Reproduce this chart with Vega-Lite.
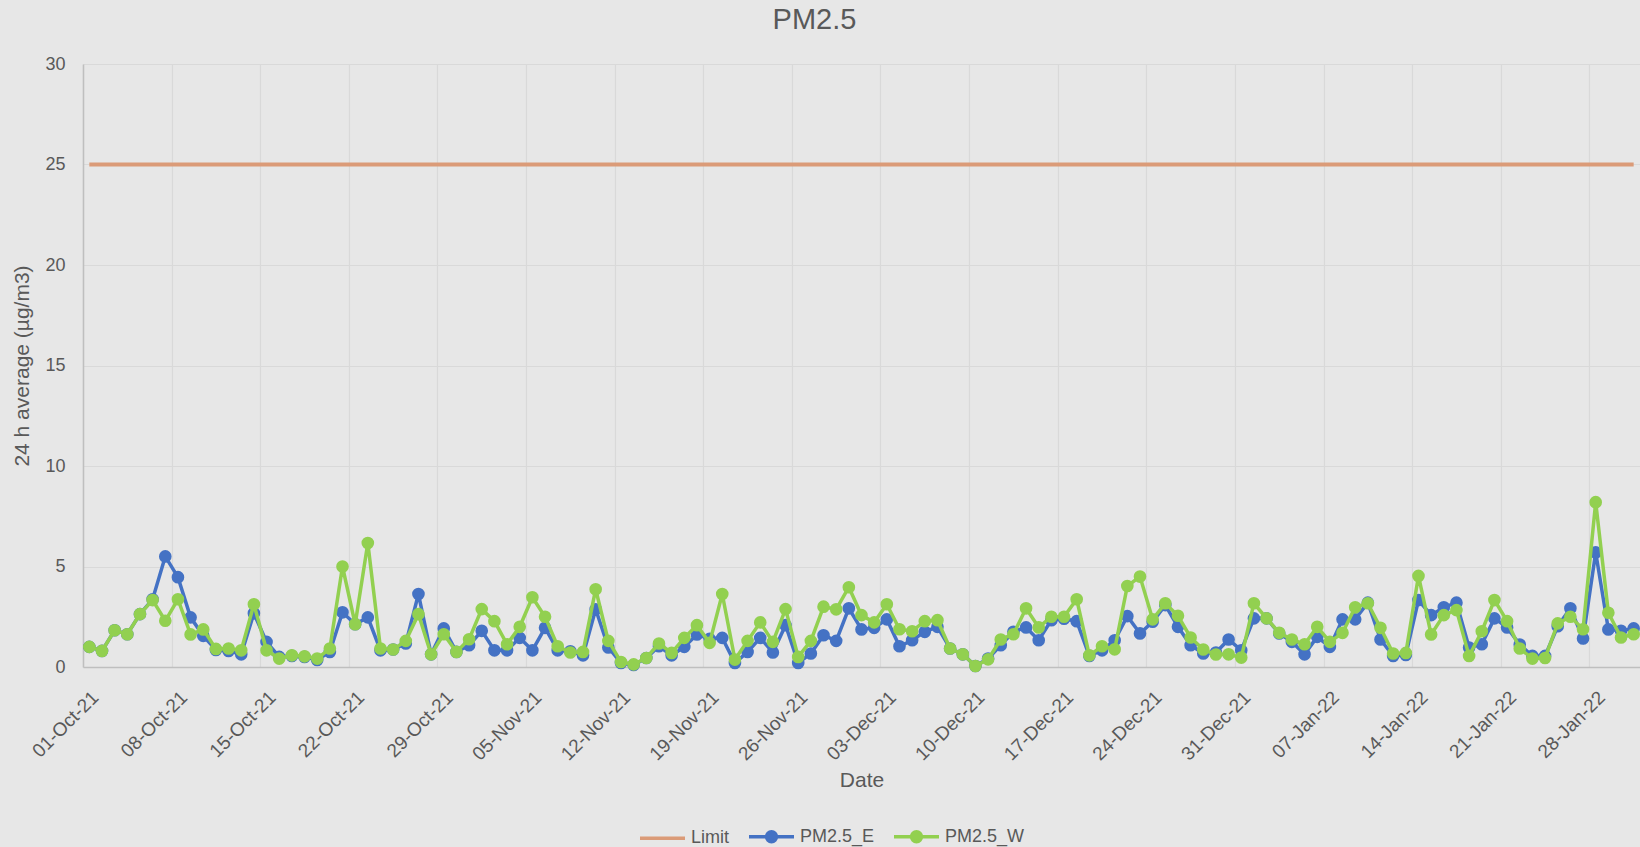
{
  "$schema": "https://vega.github.io/schema/vega-lite/v6.json",
  "width": 1557,
  "height": 603,
  "autosize": {"type": "none"},
  "padding": {"left": 83, "top": 64, "right": 0, "bottom": 180},
  "background": "#E7E7E7",
  "title": {"text": "PM2.5", "fontSize": 29, "fontWeight": "normal", "color": "#595959", "font": "Liberation Sans", "anchor": "middle", "frame": "group", "dx": -47, "offset": 20},
  "config": {"view": {"stroke": null}, "font": "Liberation Sans"},
  "data": {"values": [
    {"date": "2021-10-01", "Limit": 25, "E": 1.0, "W": 1.0},
    {"date": "2021-10-02", "Limit": 25, "E": 0.8, "W": 0.8},
    {"date": "2021-10-03", "Limit": 25, "E": 1.83, "W": 1.83},
    {"date": "2021-10-04", "Limit": 25, "E": 1.63, "W": 1.63},
    {"date": "2021-10-05", "Limit": 25, "E": 2.63, "W": 2.63},
    {"date": "2021-10-06", "Limit": 25, "E": 3.37, "W": 3.33},
    {"date": "2021-10-07", "Limit": 25, "E": 5.5, "W": 2.3},
    {"date": "2021-10-08", "Limit": 25, "E": 4.47, "W": 3.37},
    {"date": "2021-10-09", "Limit": 25, "E": 2.47, "W": 1.62},
    {"date": "2021-10-10", "Limit": 25, "E": 1.55, "W": 1.87},
    {"date": "2021-10-11", "Limit": 25, "E": 0.85, "W": 0.9},
    {"date": "2021-10-12", "Limit": 25, "E": 0.8, "W": 0.92},
    {"date": "2021-10-13", "Limit": 25, "E": 0.63, "W": 0.83},
    {"date": "2021-10-14", "Limit": 25, "E": 2.67, "W": 3.12},
    {"date": "2021-10-15", "Limit": 25, "E": 1.25, "W": 0.83},
    {"date": "2021-10-16", "Limit": 25, "E": 0.5, "W": 0.42},
    {"date": "2021-10-17", "Limit": 25, "E": 0.55, "W": 0.58},
    {"date": "2021-10-18", "Limit": 25, "E": 0.5, "W": 0.53},
    {"date": "2021-10-19", "Limit": 25, "E": 0.35, "W": 0.42},
    {"date": "2021-10-20", "Limit": 25, "E": 0.75, "W": 0.92},
    {"date": "2021-10-21", "Limit": 25, "E": 2.72, "W": 5.0},
    {"date": "2021-10-22", "Limit": 25, "E": 2.13, "W": 2.13},
    {"date": "2021-10-23", "Limit": 25, "E": 2.47, "W": 6.17},
    {"date": "2021-10-24", "Limit": 25, "E": 0.83, "W": 0.92},
    {"date": "2021-10-25", "Limit": 25, "E": 0.87, "W": 0.87},
    {"date": "2021-10-26", "Limit": 25, "E": 1.17, "W": 1.3},
    {"date": "2021-10-27", "Limit": 25, "E": 3.63, "W": 2.63},
    {"date": "2021-10-28", "Limit": 25, "E": 0.63, "W": 0.63},
    {"date": "2021-10-29", "Limit": 25, "E": 1.92, "W": 1.63},
    {"date": "2021-10-30", "Limit": 25, "E": 0.75, "W": 0.75},
    {"date": "2021-10-31", "Limit": 25, "E": 1.08, "W": 1.38},
    {"date": "2021-11-01", "Limit": 25, "E": 1.8, "W": 2.88},
    {"date": "2021-11-02", "Limit": 25, "E": 0.83, "W": 2.28},
    {"date": "2021-11-03", "Limit": 25, "E": 0.83, "W": 1.13},
    {"date": "2021-11-04", "Limit": 25, "E": 1.45, "W": 2.0},
    {"date": "2021-11-05", "Limit": 25, "E": 0.83, "W": 3.47},
    {"date": "2021-11-06", "Limit": 25, "E": 1.95, "W": 2.5},
    {"date": "2021-11-07", "Limit": 25, "E": 0.83, "W": 1.03},
    {"date": "2021-11-08", "Limit": 25, "E": 0.78, "W": 0.72},
    {"date": "2021-11-09", "Limit": 25, "E": 0.58, "W": 0.75},
    {"date": "2021-11-10", "Limit": 25, "E": 2.87, "W": 3.87},
    {"date": "2021-11-11", "Limit": 25, "E": 0.97, "W": 1.3},
    {"date": "2021-11-12", "Limit": 25, "E": 0.2, "W": 0.25},
    {"date": "2021-11-13", "Limit": 25, "E": 0.1, "W": 0.13},
    {"date": "2021-11-14", "Limit": 25, "E": 0.45, "W": 0.45},
    {"date": "2021-11-15", "Limit": 25, "E": 1.03, "W": 1.17},
    {"date": "2021-11-16", "Limit": 25, "E": 0.58, "W": 0.7},
    {"date": "2021-11-17", "Limit": 25, "E": 1.0, "W": 1.45},
    {"date": "2021-11-18", "Limit": 25, "E": 1.62, "W": 2.08},
    {"date": "2021-11-19", "Limit": 25, "E": 1.4, "W": 1.2},
    {"date": "2021-11-20", "Limit": 25, "E": 1.45, "W": 3.63},
    {"date": "2021-11-21", "Limit": 25, "E": 0.2, "W": 0.37},
    {"date": "2021-11-22", "Limit": 25, "E": 0.75, "W": 1.3},
    {"date": "2021-11-23", "Limit": 25, "E": 1.45, "W": 2.22},
    {"date": "2021-11-24", "Limit": 25, "E": 0.72, "W": 1.25},
    {"date": "2021-11-25", "Limit": 25, "E": 2.08, "W": 2.88},
    {"date": "2021-11-26", "Limit": 25, "E": 0.2, "W": 0.5},
    {"date": "2021-11-27", "Limit": 25, "E": 0.67, "W": 1.3},
    {"date": "2021-11-28", "Limit": 25, "E": 1.58, "W": 3.0},
    {"date": "2021-11-29", "Limit": 25, "E": 1.3, "W": 2.87},
    {"date": "2021-11-30", "Limit": 25, "E": 2.92, "W": 3.97},
    {"date": "2021-12-01", "Limit": 25, "E": 1.87, "W": 2.58},
    {"date": "2021-12-02", "Limit": 25, "E": 1.95, "W": 2.22},
    {"date": "2021-12-03", "Limit": 25, "E": 2.37, "W": 3.12},
    {"date": "2021-12-04", "Limit": 25, "E": 1.03, "W": 1.88},
    {"date": "2021-12-05", "Limit": 25, "E": 1.33, "W": 1.78},
    {"date": "2021-12-06", "Limit": 25, "E": 1.75, "W": 2.28},
    {"date": "2021-12-07", "Limit": 25, "E": 2.0, "W": 2.33},
    {"date": "2021-12-08", "Limit": 25, "E": 0.92, "W": 0.92},
    {"date": "2021-12-09", "Limit": 25, "E": 0.63, "W": 0.63},
    {"date": "2021-12-10", "Limit": 25, "E": 0.05, "W": 0.05},
    {"date": "2021-12-11", "Limit": 25, "E": 0.42, "W": 0.38},
    {"date": "2021-12-12", "Limit": 25, "E": 1.08, "W": 1.37},
    {"date": "2021-12-13", "Limit": 25, "E": 1.75, "W": 1.63},
    {"date": "2021-12-14", "Limit": 25, "E": 1.97, "W": 2.92},
    {"date": "2021-12-15", "Limit": 25, "E": 1.33, "W": 1.97},
    {"date": "2021-12-16", "Limit": 25, "E": 2.33, "W": 2.5},
    {"date": "2021-12-17", "Limit": 25, "E": 2.4, "W": 2.5},
    {"date": "2021-12-18", "Limit": 25, "E": 2.28, "W": 3.37},
    {"date": "2021-12-19", "Limit": 25, "E": 0.55, "W": 0.58},
    {"date": "2021-12-20", "Limit": 25, "E": 0.83, "W": 1.03},
    {"date": "2021-12-21", "Limit": 25, "E": 1.33, "W": 0.88},
    {"date": "2021-12-22", "Limit": 25, "E": 2.53, "W": 4.03},
    {"date": "2021-12-23", "Limit": 25, "E": 1.67, "W": 4.5},
    {"date": "2021-12-24", "Limit": 25, "E": 2.25, "W": 2.37},
    {"date": "2021-12-25", "Limit": 25, "E": 3.08, "W": 3.17},
    {"date": "2021-12-26", "Limit": 25, "E": 2.0, "W": 2.55},
    {"date": "2021-12-27", "Limit": 25, "E": 1.08, "W": 1.47},
    {"date": "2021-12-28", "Limit": 25, "E": 0.67, "W": 0.87},
    {"date": "2021-12-29", "Limit": 25, "E": 0.72, "W": 0.62},
    {"date": "2021-12-30", "Limit": 25, "E": 1.37, "W": 0.63},
    {"date": "2021-12-31", "Limit": 25, "E": 0.83, "W": 0.47},
    {"date": "2022-01-01", "Limit": 25, "E": 2.42, "W": 3.17},
    {"date": "2022-01-02", "Limit": 25, "E": 2.42, "W": 2.42},
    {"date": "2022-01-03", "Limit": 25, "E": 1.67, "W": 1.7},
    {"date": "2022-01-04", "Limit": 25, "E": 1.25, "W": 1.37},
    {"date": "2022-01-05", "Limit": 25, "E": 0.63, "W": 1.13},
    {"date": "2022-01-06", "Limit": 25, "E": 1.5, "W": 2.0},
    {"date": "2022-01-07", "Limit": 25, "E": 1.0, "W": 1.25},
    {"date": "2022-01-08", "Limit": 25, "E": 2.37, "W": 1.7},
    {"date": "2022-01-09", "Limit": 25, "E": 2.37, "W": 2.97},
    {"date": "2022-01-10", "Limit": 25, "E": 3.2, "W": 3.17},
    {"date": "2022-01-11", "Limit": 25, "E": 1.37, "W": 1.95},
    {"date": "2022-01-12", "Limit": 25, "E": 0.55, "W": 0.67},
    {"date": "2022-01-13", "Limit": 25, "E": 0.6, "W": 0.7},
    {"date": "2022-01-14", "Limit": 25, "E": 3.33, "W": 4.53},
    {"date": "2022-01-15", "Limit": 25, "E": 2.58, "W": 1.62},
    {"date": "2022-01-16", "Limit": 25, "E": 2.97, "W": 2.58},
    {"date": "2022-01-17", "Limit": 25, "E": 3.2, "W": 2.83},
    {"date": "2022-01-18", "Limit": 25, "E": 0.97, "W": 0.55},
    {"date": "2022-01-19", "Limit": 25, "E": 1.13, "W": 1.78},
    {"date": "2022-01-20", "Limit": 25, "E": 2.42, "W": 3.33},
    {"date": "2022-01-21", "Limit": 25, "E": 1.97, "W": 2.28},
    {"date": "2022-01-22", "Limit": 25, "E": 1.12, "W": 0.92},
    {"date": "2022-01-23", "Limit": 25, "E": 0.55, "W": 0.42},
    {"date": "2022-01-24", "Limit": 25, "E": 0.55, "W": 0.45},
    {"date": "2022-01-25", "Limit": 25, "E": 2.03, "W": 2.17},
    {"date": "2022-01-26", "Limit": 25, "E": 2.92, "W": 2.5},
    {"date": "2022-01-27", "Limit": 25, "E": 1.42, "W": 1.88},
    {"date": "2022-01-28", "Limit": 25, "E": 5.7, "W": 8.2},
    {"date": "2022-01-29", "Limit": 25, "E": 1.87, "W": 2.7},
    {"date": "2022-01-30", "Limit": 25, "E": 1.8, "W": 1.47},
    {"date": "2022-01-31", "Limit": 25, "E": 1.92, "W": 1.63}
  ]},
  "transform": [{"fold": ["Limit", "E", "W"], "as": ["series", "value"]}],
  "encoding": {
    "x": {
      "field": "date", "type": "temporal", "timeUnit": "utcyearmonthdate", "bandPosition": 0.5,
      "title": "Date",
      "scale": {"type": "utc", "domain": [{"year": 2021, "month": 10, "date": 1, "utc": true}, {"year": 2022, "month": 2, "date": 1, "utc": true}]},
      "axis": {
        "values": [
          {"year": 2021, "month": 10, "date": 1, "utc": true},
          {"year": 2021, "month": 10, "date": 8, "utc": true},
          {"year": 2021, "month": 10, "date": 15, "utc": true},
          {"year": 2021, "month": 10, "date": 22, "utc": true},
          {"year": 2021, "month": 10, "date": 29, "utc": true},
          {"year": 2021, "month": 11, "date": 5, "utc": true},
          {"year": 2021, "month": 11, "date": 12, "utc": true},
          {"year": 2021, "month": 11, "date": 19, "utc": true},
          {"year": 2021, "month": 11, "date": 26, "utc": true},
          {"year": 2021, "month": 12, "date": 3, "utc": true},
          {"year": 2021, "month": 12, "date": 10, "utc": true},
          {"year": 2021, "month": 12, "date": 17, "utc": true},
          {"year": 2021, "month": 12, "date": 24, "utc": true},
          {"year": 2021, "month": 12, "date": 31, "utc": true},
          {"year": 2022, "month": 1, "date": 7, "utc": true},
          {"year": 2022, "month": 1, "date": 14, "utc": true},
          {"year": 2022, "month": 1, "date": 21, "utc": true},
          {"year": 2022, "month": 1, "date": 28, "utc": true}
        ],
        "format": "%d-%b-%y",
        "labelAngle": -45, "labelAlign": "right", "labelBaseline": "middle",
        "labelOffset": 12, "labelPadding": 27, "labelFontSize": 19, "labelColor": "#595959",
        "labelOverlap": false, "labelFlush": false,
        "ticks": false, "domainColor": "#BFBFBF", "domainWidth": 1.5,
        "grid": true, "gridColor": "#D9D9D9", "gridWidth": 1.2,
        "titleFontSize": 21, "titleFontWeight": "normal", "titleColor": "#595959", "titlePadding": 6
      }
    },
    "y": {
      "field": "value", "type": "quantitative", "title": "24 h average (µg/m3)",
      "scale": {"domain": [0, 30], "nice": false, "zero": true},
      "axis": {
        "values": [0, 5, 10, 15, 20, 25, 30],
        "labelFontSize": 18, "labelColor": "#595959", "labelPadding": 18,
        "ticks": false, "domainColor": "#BFBFBF", "domainWidth": 1.5,
        "grid": true, "gridColor": "#D9D9D9", "gridWidth": 1.2,
        "titleFontSize": 21, "titleFontWeight": "normal", "titleColor": "#595959", "titlePadding": 12
      }
    },
    "color": {
      "field": "series", "type": "nominal",
      "scale": {"domain": ["Limit", "E", "W"], "range": ["#DB9B78", "#4472C4", "#92D050"]},
      "legend": {
        "orient": "none", "legendX": 555, "legendY": 748, "direction": "horizontal", "title": null,
        "labelExpr": "datum.label == 'E' ? 'PM2.5_E' : (datum.label == 'W' ? 'PM2.5_W' : datum.label)",
        "labelFontSize": 18, "labelColor": "#595959", "labelOffset": 4, "columnPadding": 12,
        "symbolSize": 2025, "symbolStrokeWidth": 3.5,
        "encode": {"symbols": {"update": {
          "shape": {"signal": "datum.value == 'Limit' ? 'M-1,0H1' : 'M-1,0H1M-0.22,0A0.22,0.22 0 1,1 0.22,0A0.22,0.22 0 1,1 -0.22,0Z'"},
          "fill": {"scale": "color", "field": "value"},
          "stroke": {"scale": "color", "field": "value"},
          "opacity": {"value": 1}
        }}}
      }
    }
  },
  "layer": [
    {"transform": [{"filter": "datum.series == 'Limit'"}], "mark": {"type": "line", "strokeWidth": 4}},
    {"transform": [{"filter": "datum.series == 'E'"}], "mark": {"type": "line", "strokeWidth": 3.5, "point": {"filled": true, "size": 160, "opacity": 1}}},
    {"transform": [{"filter": "datum.series == 'W'"}], "mark": {"type": "line", "strokeWidth": 3.5, "point": {"filled": true, "size": 160, "opacity": 1}}}
  ]
}
